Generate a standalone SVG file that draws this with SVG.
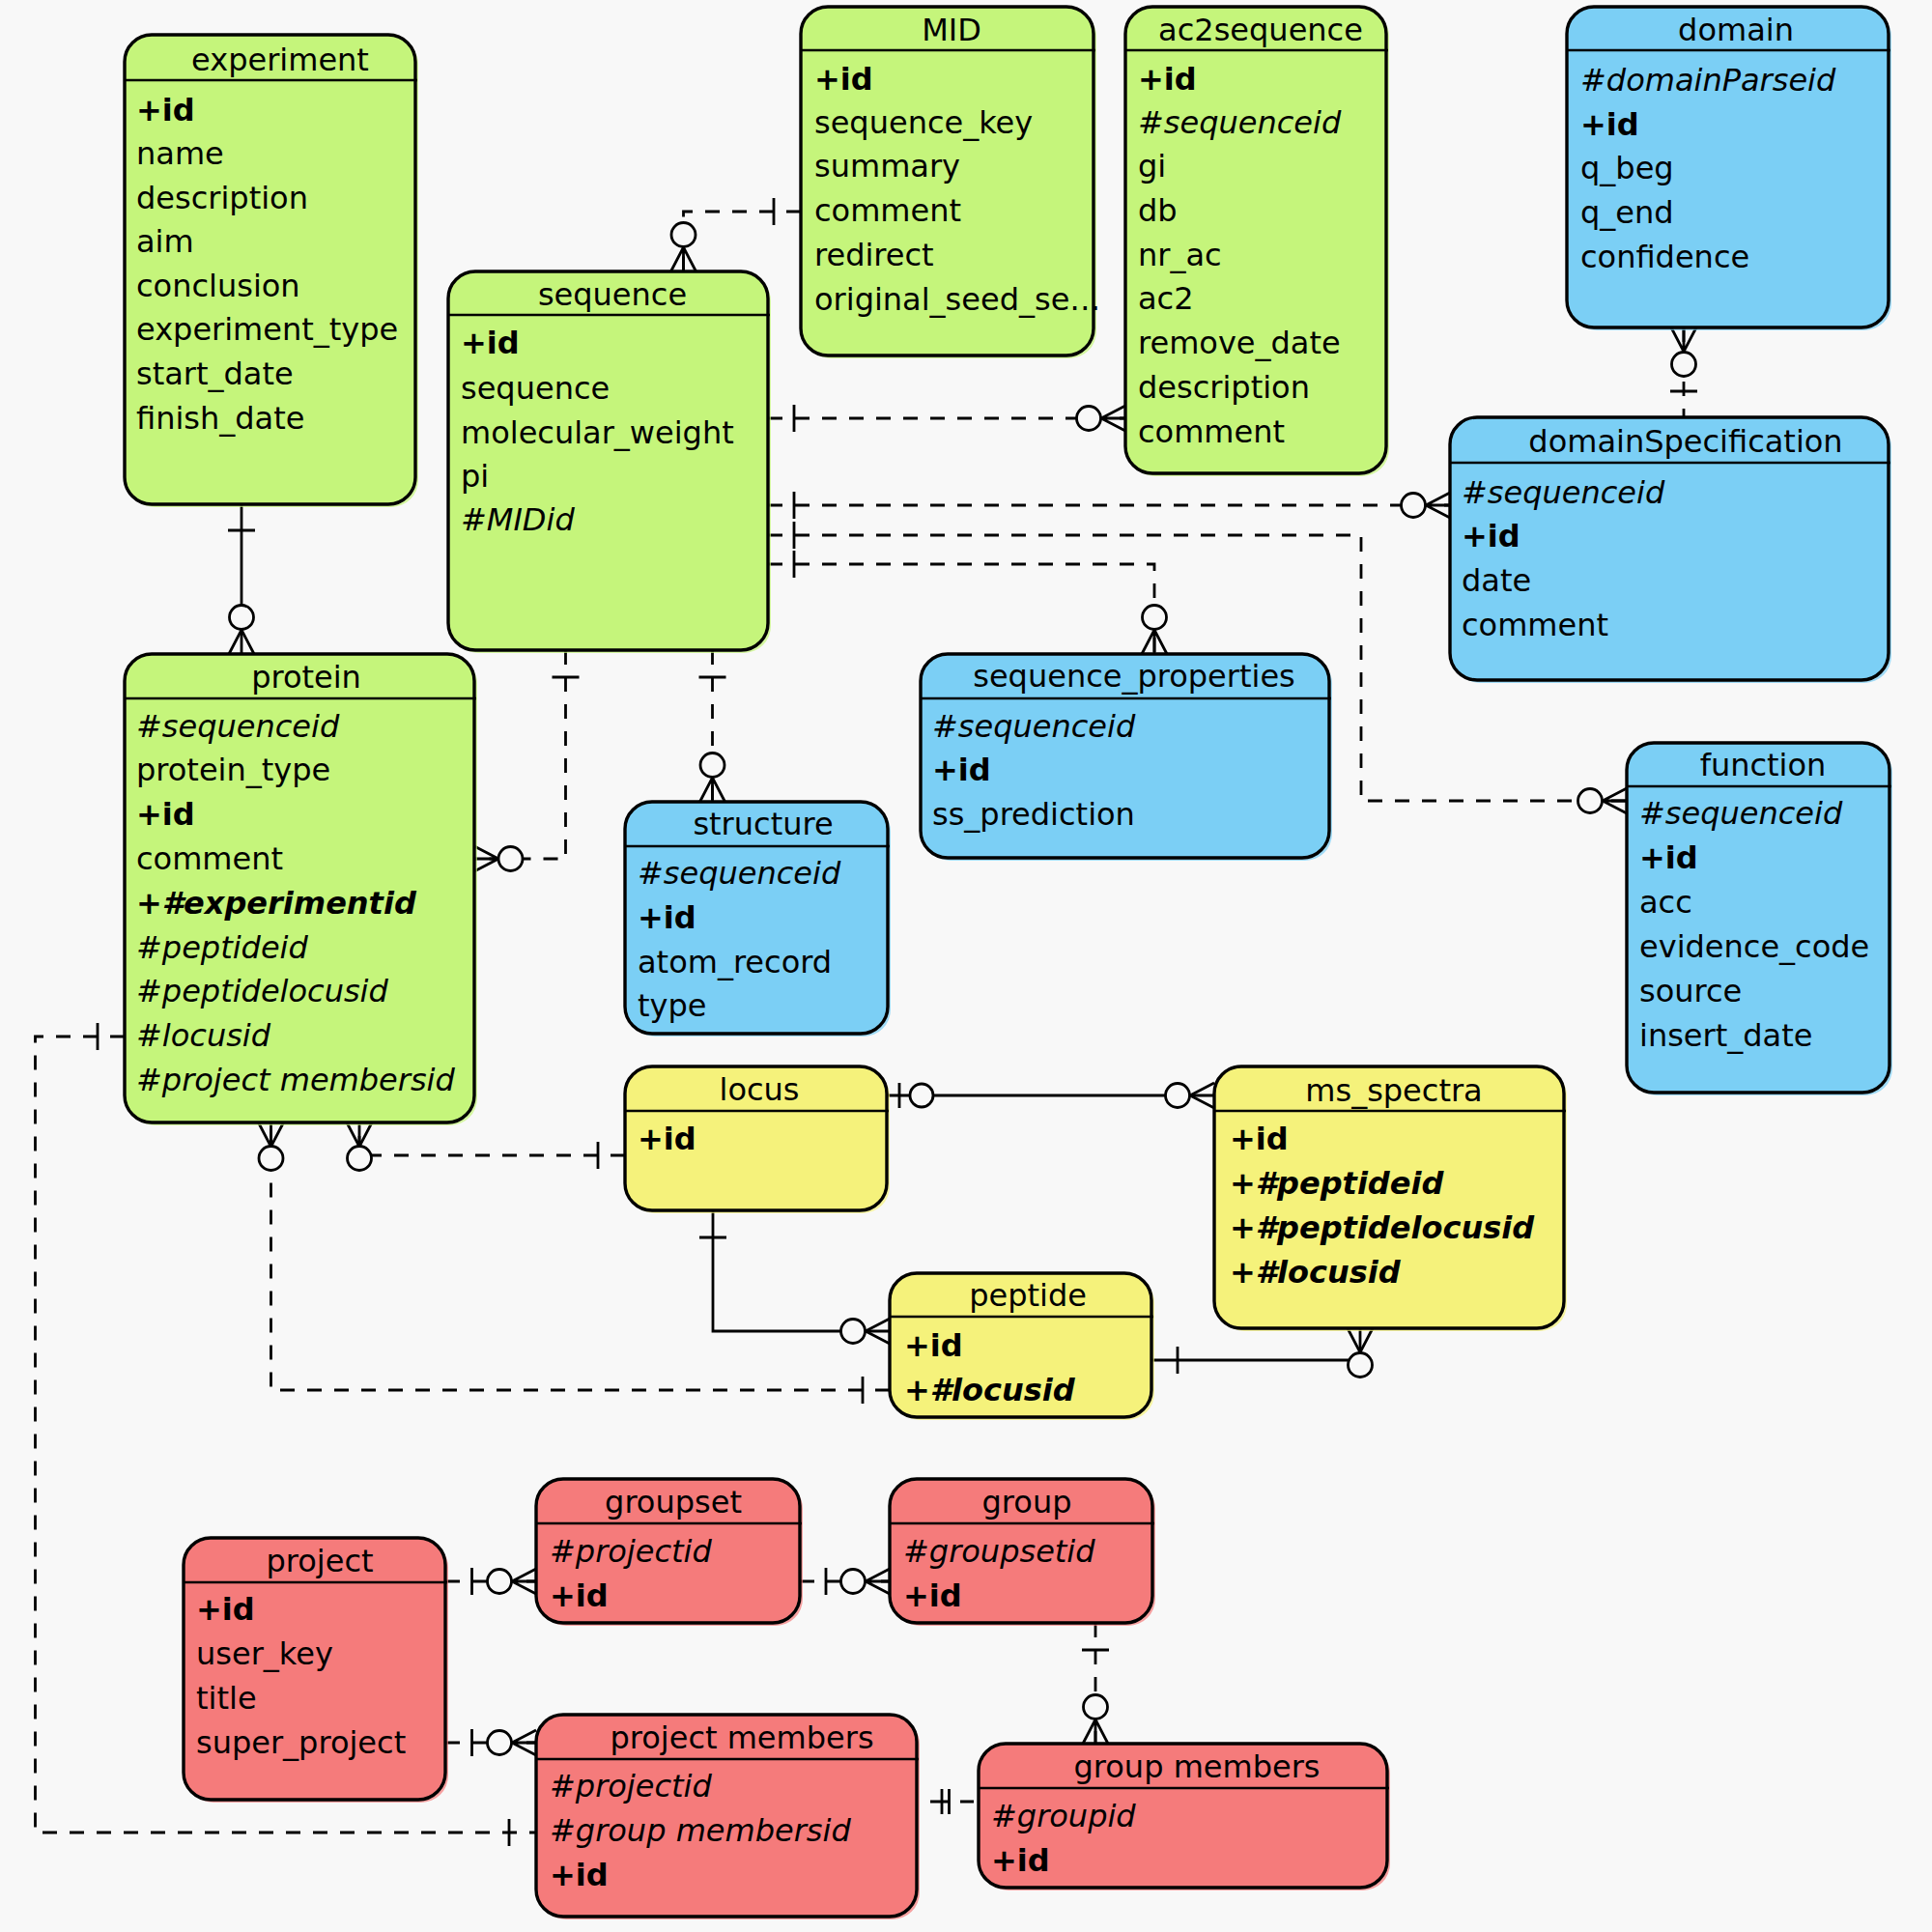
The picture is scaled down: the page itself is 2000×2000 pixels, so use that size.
<svg xmlns="http://www.w3.org/2000/svg" width="2000" height="2000" viewBox="0 0 2000 2000">
<style>
.bg{fill:#f8f8f8}
.box{stroke:#000;stroke-width:3.4}
.sh{opacity:.7}
.g{fill:#c5f57b}.b{fill:#7bcff5}.y{fill:#f5f27b}.r{fill:#f57b7b}
.hl{stroke:#000;stroke-width:2.6}
text{font-family:"DejaVu Sans","Liberation Sans",sans-serif;font-size:32px;fill:#000}
.t{text-anchor:middle}
.k{font-weight:bold}
.i{font-style:italic}
.ki{font-weight:bold;font-style:italic}
.c{stroke:#000;stroke-width:2.8;fill:none}
.d{stroke-dasharray:15 13}
.o{fill:#f8f8f8;stroke:#000;stroke-width:2.8}
</style>
<rect class="bg" x="0" y="0" width="2000" height="2000"/>

<g id="connectors">
  <!-- experiment - protein -->
  <path class="c" d="M250,522 V677"/>
  <path class="c" d="M236,549 H264 M237,677 L250,652 L263,677"/>
  <circle class="o" cx="250" cy="639" r="12.5"/>
  <!-- MID - sequence -->
  <path class="c d" d="M829,219 H707.5 V281"/>
  <path class="c" d="M801,205 V233 M694.5,281 L707.5,256 L720.5,281 M707.5,256 V281"/>
  <circle class="o" cx="707.5" cy="243" r="12.5"/>
  <!-- sequence - ac2sequence -->
  <path class="c d" d="M795,433 H1165"/>
  <path class="c" d="M822,419 V447 M1165,420 L1140,433 L1165,446 M1140,433 H1165"/>
  <circle class="o" cx="1127" cy="433" r="12.5"/>
  <!-- sequence - domainSpecification -->
  <path class="c d" d="M795,523 H1501"/>
  <path class="c" d="M822,509 V537 M1501,510 L1476,523 L1501,536 M1476,523 H1501"/>
  <circle class="o" cx="1463" cy="523" r="12.5"/>
  <!-- sequence - function -->
  <path class="c d" d="M795,554 H1409 V829 H1684"/>
  <path class="c" d="M822,540 V568 M1684,816 L1659,829 L1684,842 M1659,829 H1684"/>
  <circle class="o" cx="1646" cy="829" r="12.5"/>
  <!-- sequence - sequence_properties -->
  <path class="c d" d="M795,584 H1195 V677"/>
  <path class="c" d="M822,570 V598 M1182,677 L1195,652 L1208,677 M1195,652 V677"/>
  <circle class="o" cx="1195" cy="639" r="12.5"/>
  <!-- domain - domainSpecification -->
  <path class="c d" d="M1743,339 V432"/>
  <path class="c" d="M1730,339 L1743,364 L1756,339 M1743,339 V364 M1729,405 H1757"/>
  <circle class="o" cx="1743" cy="377" r="12.5"/>
  <!-- sequence - protein -->
  <path class="c d" d="M585.5,673 V889 H491"/>
  <path class="c" d="M571.5,701 H599.5 M491,876 L516,889 L491,902 M491,889 H516"/>
  <circle class="o" cx="528.5" cy="889" r="12.5"/>
  <!-- sequence - structure -->
  <path class="c d" d="M737.5,673 V830"/>
  <path class="c" d="M723.5,701 H751.5 M724.5,830 L737.5,805 L750.5,830 M737.5,805 V830"/>
  <circle class="o" cx="737.5" cy="792" r="12.5"/>
  <!-- locus - protein -->
  <path class="c d" d="M647,1196 H372 V1162"/>
  <path class="c" d="M619,1182 V1210 M359,1162 L372,1187 L385,1162 M372,1162 V1187"/>
  <circle class="o" cx="372" cy="1199" r="12.5"/>
  <!-- peptide - protein -->
  <path class="c d" d="M921,1439 H280.5 V1162"/>
  <path class="c" d="M893,1425 V1453 M267.5,1162 L280.5,1187 L293.5,1162 M280.5,1162 V1187"/>
  <circle class="o" cx="280.5" cy="1199" r="12.5"/>
  <!-- locus - ms_spectra -->
  <path class="c" d="M918,1134 H1257"/>
  <path class="c" d="M931,1121 V1147 M1257,1121 L1232,1134 L1257,1147"/>
  <circle class="o" cx="954" cy="1134" r="12"/>
  <circle class="o" cx="1219" cy="1134" r="12.5"/>
  <!-- locus - peptide -->
  <path class="c" d="M738,1253 V1378 H921"/>
  <path class="c" d="M724,1281 H752 M921,1365 L896,1378 L921,1391"/>
  <circle class="o" cx="883" cy="1378" r="12.5"/>
  <!-- peptide - ms_spectra -->
  <path class="c" d="M1192,1408 H1408 V1375"/>
  <path class="c" d="M1219,1394 V1422 M1395,1375 L1408,1400 L1421,1375"/>
  <circle class="o" cx="1408" cy="1413" r="12.5"/>
  <!-- protein - project members -->
  <path class="c d" d="M129,1073 H36.5 V1897 H555"/>
  <path class="c" d="M101,1059 V1087 M527,1883 V1911"/>
  <!-- project - groupset -->
  <path class="c d" d="M461,1637 H555"/>
  <path class="c" d="M488.5,1623 V1651 M555,1624 L530,1637 L555,1650 M530,1637 H555"/>
  <circle class="o" cx="517" cy="1637" r="12.5"/>
  <!-- project - project members -->
  <path class="c d" d="M461,1804 H555"/>
  <path class="c" d="M488.5,1790 V1818 M555,1791 L530,1804 L555,1817 M530,1804 H555"/>
  <circle class="o" cx="517" cy="1804" r="12.5"/>
  <!-- groupset - group -->
  <path class="c d" d="M828,1637 H921"/>
  <path class="c" d="M855,1623 V1651 M921,1624 L896,1637 L921,1650 M896,1637 H921"/>
  <circle class="o" cx="883" cy="1637" r="12.5"/>
  <!-- group - group members -->
  <path class="c d" d="M1134,1680 V1805"/>
  <path class="c" d="M1120,1708 H1148 M1121,1805 L1134,1780 L1147,1805 M1134,1780 V1805"/>
  <circle class="o" cx="1134" cy="1767" r="12.5"/>
  <!-- project members - group members -->
  <path class="c" d="M963,1865 H983 M994,1865 H1008"/>
  <path class="c" d="M975,1852 V1878 M982.5,1852 V1878"/>
</g>

<g id="experiment">
  <rect class="g sh" x="132" y="39" width="301" height="486" rx="28"/>
  <rect class="g box" x="129" y="36" width="301" height="486" rx="28"/>
  <line class="hl" x1="129" y1="83" x2="432" y2="83"/>
  <text class="t" x="290" y="73">experiment</text>
  <text class="k" x="141" y="125">+id</text>
  <text x="141" y="170">name</text>
  <text x="141" y="216">description</text>
  <text x="141" y="261">aim</text>
  <text x="141" y="307">conclusion</text>
  <text x="141" y="352">experiment_type</text>
  <text x="141" y="398">start_date</text>
  <text x="141" y="444">finish_date</text>
</g>

<g id="sequence">
  <rect class="g sh" x="467" y="284" width="331" height="392" rx="28"/>
  <rect class="g box" x="464" y="281" width="331" height="392" rx="28"/>
  <line class="hl" x1="464" y1="326" x2="797" y2="326"/>
  <text class="t" x="634" y="316">sequence</text>
  <text class="k" x="477" y="366">+id</text>
  <text x="477" y="413">sequence</text>
  <text x="477" y="459">molecular_weight</text>
  <text x="477" y="504">pi</text>
  <text class="i" x="477" y="549">#MIDid</text>
</g>

<g id="MID">
  <rect class="g sh" x="832" y="10" width="303" height="361" rx="28"/>
  <rect class="g box" x="829" y="7" width="303" height="361" rx="28"/>
  <line class="hl" x1="829" y1="52" x2="1134" y2="52"/>
  <text class="t" x="985" y="42">MID</text>
  <text class="k" x="843" y="93">+id</text>
  <text x="843" y="138">sequence_key</text>
  <text x="843" y="183">summary</text>
  <text x="843" y="229">comment</text>
  <text x="843" y="275">redirect</text>
  <text x="843" y="321">original_seed_se…</text>
</g>

<g id="ac2sequence">
  <rect class="g sh" x="1168" y="10" width="270" height="483" rx="28"/>
  <rect class="g box" x="1165" y="7" width="270" height="483" rx="28"/>
  <line class="hl" x1="1165" y1="52" x2="1437" y2="52"/>
  <text class="t" x="1305" y="42">ac2sequence</text>
  <text class="k" x="1178" y="93">+id</text>
  <text class="i" x="1178" y="138">#sequenceid</text>
  <text x="1178" y="183">gi</text>
  <text x="1178" y="229">db</text>
  <text x="1178" y="275">nr_ac</text>
  <text x="1178" y="320">ac2</text>
  <text x="1178" y="366">remove_date</text>
  <text x="1178" y="412">description</text>
  <text x="1178" y="458">comment</text>
</g>

<g id="domain">
  <rect class="b sh" x="1625" y="10" width="333" height="332" rx="28"/>
  <rect class="b box" x="1622" y="7" width="333" height="332" rx="28"/>
  <line class="hl" x1="1622" y1="52" x2="1957" y2="52"/>
  <text class="t" x="1797" y="42">domain</text>
  <text class="i" x="1636" y="94">#domainParseid</text>
  <text class="k" x="1636" y="140">+id</text>
  <text x="1636" y="185">q_beg</text>
  <text x="1636" y="231">q_end</text>
  <text x="1636" y="277">confidence</text>
</g>

<g id="domainSpecification">
  <rect class="b sh" x="1504" y="435" width="454" height="272" rx="28"/>
  <rect class="b box" x="1501" y="432" width="454" height="272" rx="28"/>
  <line class="hl" x1="1501" y1="479" x2="1957" y2="479"/>
  <text class="t" x="1745" y="468">domainSpecification</text>
  <text class="i" x="1513" y="521">#sequenceid</text>
  <text class="k" x="1513" y="566">+id</text>
  <text x="1513" y="612">date</text>
  <text x="1513" y="658">comment</text>
</g>

<g id="protein">
  <rect class="g sh" x="132" y="680" width="362" height="485" rx="28"/>
  <rect class="g box" x="129" y="677" width="362" height="485" rx="28"/>
  <line class="hl" x1="129" y1="723" x2="493" y2="723"/>
  <text class="t" x="317" y="712">protein</text>
  <text class="i" x="141" y="763">#sequenceid</text>
  <text x="141" y="808">protein_type</text>
  <text class="k" x="141" y="854">+id</text>
  <text x="141" y="900">comment</text>
  <text class="ki" x="141" y="946">+#experimentid</text>
  <text class="i" x="141" y="992">#peptideid</text>
  <text class="i" x="141" y="1037">#peptidelocusid</text>
  <text class="i" x="141" y="1083">#locusid</text>
  <text class="i" x="141" y="1129">#project membersid</text>
</g>

<g id="structure">
  <rect class="b sh" x="650" y="833" width="272" height="240" rx="28"/>
  <rect class="b box" x="647" y="830" width="272" height="240" rx="28"/>
  <line class="hl" x1="647" y1="876" x2="921" y2="876"/>
  <text class="t" x="790" y="864">structure</text>
  <text class="i" x="660" y="915">#sequenceid</text>
  <text class="k" x="660" y="961">+id</text>
  <text x="660" y="1007">atom_record</text>
  <text x="660" y="1052">type</text>
</g>

<g id="sequence_properties">
  <rect class="b sh" x="956" y="680" width="423" height="211" rx="28"/>
  <rect class="b box" x="953" y="677" width="423" height="211" rx="28"/>
  <line class="hl" x1="953" y1="723" x2="1378" y2="723"/>
  <text class="t" x="1174" y="711">sequence_properties</text>
  <text class="i" x="965" y="763">#sequenceid</text>
  <text class="k" x="965" y="808">+id</text>
  <text x="965" y="854">ss_prediction</text>
</g>

<g id="function">
  <rect class="b sh" x="1687" y="772" width="272" height="362" rx="28"/>
  <rect class="b box" x="1684" y="769" width="272" height="362" rx="28"/>
  <line class="hl" x1="1684" y1="814" x2="1958" y2="814"/>
  <text class="t" x="1825" y="803">function</text>
  <text class="i" x="1697" y="853">#sequenceid</text>
  <text class="k" x="1697" y="899">+id</text>
  <text x="1697" y="945">acc</text>
  <text x="1697" y="991">evidence_code</text>
  <text x="1697" y="1037">source</text>
  <text x="1697" y="1083">insert_date</text>
</g>

<g id="locus">
  <rect class="y sh" x="650" y="1107" width="271" height="149" rx="28"/>
  <rect class="y box" x="647" y="1104" width="271" height="149" rx="28"/>
  <line class="hl" x1="647" y1="1150" x2="920" y2="1150"/>
  <text class="t" x="786" y="1139">locus</text>
  <text class="k" x="660" y="1190">+id</text>
</g>

<g id="ms_spectra">
  <rect class="y sh" x="1260" y="1107" width="362" height="271" rx="28"/>
  <rect class="y box" x="1257" y="1104" width="362" height="271" rx="28"/>
  <line class="hl" x1="1257" y1="1150" x2="1621" y2="1150"/>
  <text class="t" x="1443" y="1140">ms_spectra</text>
  <text class="k" x="1273" y="1190">+id</text>
  <text class="ki" x="1273" y="1236">+#peptideid</text>
  <text class="ki" x="1273" y="1282">+#peptidelocusid</text>
  <text class="ki" x="1273" y="1328">+#locusid</text>
</g>

<g id="peptide">
  <rect class="y sh" x="924" y="1321" width="271" height="149" rx="28"/>
  <rect class="y box" x="921" y="1318" width="271" height="149" rx="28"/>
  <line class="hl" x1="921" y1="1363" x2="1194" y2="1363"/>
  <text class="t" x="1064" y="1352">peptide</text>
  <text class="k" x="936" y="1404">+id</text>
  <text class="ki" x="936" y="1450">+#locusid</text>
</g>

<g id="project">
  <rect class="r sh" x="193" y="1595" width="271" height="271" rx="28"/>
  <rect class="r box" x="190" y="1592" width="271" height="271" rx="28"/>
  <line class="hl" x1="190" y1="1638" x2="463" y2="1638"/>
  <text class="t" x="331" y="1627">project</text>
  <text class="k" x="203" y="1677">+id</text>
  <text x="203" y="1723">user_key</text>
  <text x="203" y="1769">title</text>
  <text x="203" y="1815">super_project</text>
</g>

<g id="groupset">
  <rect class="r sh" x="558" y="1534" width="273" height="149" rx="28"/>
  <rect class="r box" x="555" y="1531" width="273" height="149" rx="28"/>
  <line class="hl" x1="555" y1="1577" x2="830" y2="1577"/>
  <text class="t" x="697" y="1566">groupset</text>
  <text class="i" x="569" y="1617">#projectid</text>
  <text class="k" x="569" y="1663">+id</text>
</g>

<g id="group">
  <rect class="r sh" x="924" y="1534" width="272" height="149" rx="28"/>
  <rect class="r box" x="921" y="1531" width="272" height="149" rx="28"/>
  <line class="hl" x1="921" y1="1577" x2="1195" y2="1577"/>
  <text class="t" x="1063" y="1566">group</text>
  <text class="i" x="935" y="1617">#groupsetid</text>
  <text class="k" x="935" y="1663">+id</text>
</g>

<g id="project_members">
  <rect class="r sh" x="558" y="1778" width="394" height="209" rx="28"/>
  <rect class="r box" x="555" y="1775" width="394" height="209" rx="28"/>
  <line class="hl" x1="555" y1="1821" x2="951" y2="1821"/>
  <text class="t" x="768" y="1810">project members</text>
  <text class="i" x="569" y="1860">#projectid</text>
  <text class="i" x="569" y="1906">#group membersid</text>
  <text class="k" x="569" y="1952">+id</text>
</g>

<g id="group_members">
  <rect class="r sh" x="1016" y="1808" width="423" height="149" rx="28"/>
  <rect class="r box" x="1013" y="1805" width="423" height="149" rx="28"/>
  <line class="hl" x1="1013" y1="1851" x2="1438" y2="1851"/>
  <text class="t" x="1239" y="1840">group members</text>
  <text class="i" x="1026" y="1891">#groupid</text>
  <text class="k" x="1026" y="1937">+id</text>
</g>
</svg>
